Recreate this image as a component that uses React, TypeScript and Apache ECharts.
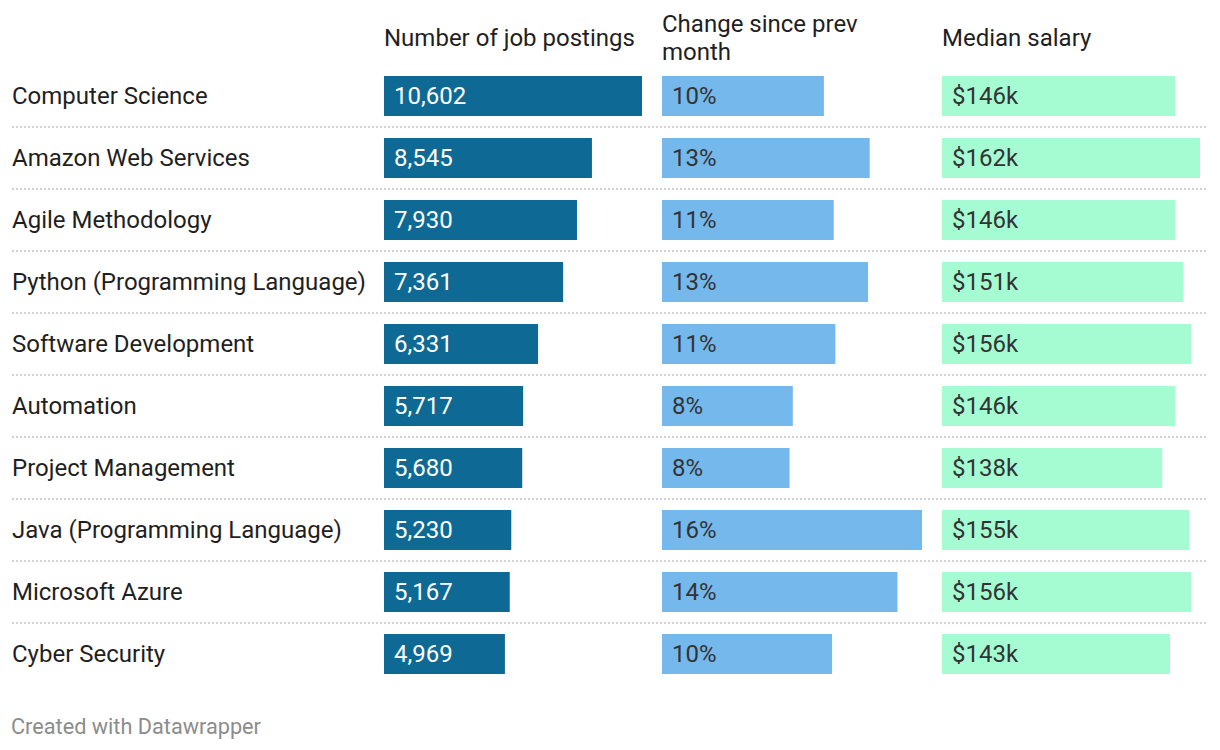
import React, { useEffect, useRef } from "react";
import * as echarts from "echarts";

const categories = [
  "Computer Science",
  "Amazon Web Services",
  "Agile Methodology",
  "Python (Programming Language)",
  "Software Development",
  "Automation",
  "Project Management",
  "Java (Programming Language)",
  "Microsoft Azure",
  "Cyber Security",
];
const postings = [10602, 8545, 7930, 7361, 6331, 5717, 5680, 5230, 5167, 4969];
const changePct = [9.9, 12.7, 10.5, 12.6, 10.6, 8.0, 7.8, 15.9, 14.4, 10.4];
const salaryK = [146.4, 162, 146.4, 151.4, 156.4, 146.4, 138.3, 155.4, 156.4, 143.2];
const headers = ["Number of job postings", "Change since prev\nmonth", "Median salary"];
const footer = "Created with Datawrapper";

const FONT = "Roboto, 'Noto Sans', sans-serif";
const TOP = 65;
const H = 620;
const cols = [
  { left: 384, width: 258, color: "#0e6a94", text: "#ffffff" },
  { left: 662, width: 260, color: "#74b8ec", text: "#333333" },
  { left: 942, width: 258, color: "#a6fcd2", text: "#333333" },
];

export default function App() {
  const ref = useRef<HTMLDivElement>(null);
  useEffect(() => {
    if (!ref.current) return;
    const chart = echarts.init(ref.current, null, { renderer: "svg" });
    const values = [postings, changePct, salaryK];
    const formatters = [
      (v: number) => v.toLocaleString("en-US"),
      (v: number) => Math.round(v) + "%",
      (v: number) => "$" + Math.round(v) + "k",
    ];
    const grids: any[] = [{ left: 12, right: 12, top: TOP, height: H }];
    const xAxes: any[] = [{ gridIndex: 0, type: "value", show: false }];
    const yAxes: any[] = [
      {
        gridIndex: 0,
        type: "category",
        inverse: true,
        data: categories,
        axisLine: { show: false },
        axisTick: { show: false },
        axisLabel: {
          inside: true,
          margin: 0,
          fontSize: 24,
          fontFamily: FONT,
          color: "#1f1f1f",
        },
        splitLine: {
          show: true,
          showMinLine: false,
          showMaxLine: false,
          lineStyle: { color: "#d2d2d2", width: 2, type: [2, 2] },
        },
      },
    ];
    const series: any[] = [];
    cols.forEach((c, i) => {
      const gi = i + 1;
      grids.push({ left: c.left, width: c.width, top: TOP, height: H });
      xAxes.push({ gridIndex: gi, type: "value", min: 0, max: "dataMax", show: false });
      yAxes.push({ gridIndex: gi, type: "category", inverse: true, data: categories, show: false });
      series.push({
        type: "bar",
        xAxisIndex: gi,
        yAxisIndex: gi,
        data: values[i],
        barWidth: 40,
        itemStyle: { color: c.color },
        label: {
          show: true,
          position: "insideLeft",
          distance: 10,
          fontSize: 24,
          fontFamily: FONT,
          color: c.text,
          formatter: (p: any) => formatters[i](p.value),
        },
      });
    });
    const graphic: any[] = cols.map((c, i) => ({
      type: "text",
      left: c.left,
      top: i === 1 ? 10 : 24,
      style: {
        text: headers[i],
        fontSize: 24,
        lineHeight: 28,
        fontFamily: FONT,
        fill: "#1f1f1f",
      },
    }));
    graphic.push({
      type: "text",
      left: 11,
      top: 715,
      style: { text: footer, fontSize: 21.7, fontFamily: FONT, fill: "#8c8c8c" },
    });
    chart.setOption({
      animation: false,
      backgroundColor: "#ffffff",
      grid: grids,
      xAxis: xAxes,
      yAxis: yAxes,
      series,
      graphic,
    });
    return () => chart.dispose();
  }, []);
  return (
    <div
      ref={ref}
      style={{ position: "absolute", left: 0, top: 0, width: 1220, height: 750, background: "#fff" }}
    />
  );
}
